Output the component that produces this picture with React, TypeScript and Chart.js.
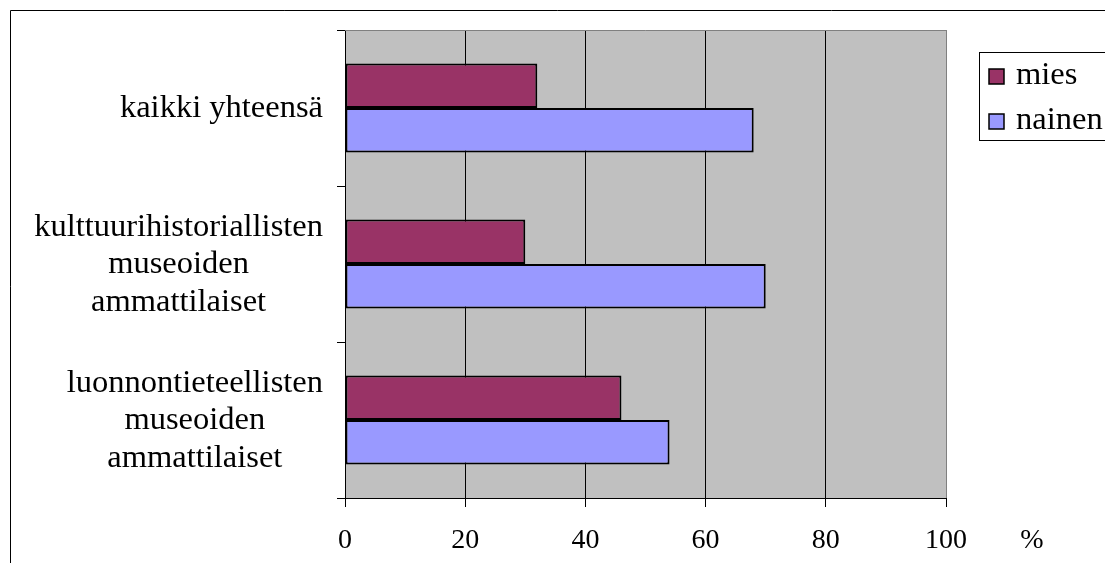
import React, { useEffect, useRef } from "react";
import { Chart, registerables } from "chart.js";

Chart.register(...registerables);

const categoryLines: string[][] = [
  ["kaikki yhteensä"],
  ["kulttuurihistoriallisten", "museoiden", "ammattilaiset"],
  ["luonnontieteellisten", "museoiden", "ammattilaiset"],
];
const seriesNames = ["mies", "nainen"];
const miesValues = [32, 30, 46];
const nainenValues = [68, 70, 54];
const seriesColors = ["#993366", "#9999FF"];
const xMin = 0;
const xMax = 100;
const xStep = 20;
const unitLabel = "%";

const FONT = "'Liberation Serif', 'Times New Roman', serif";

const decorPlugin = {
  id: "decor",
  beforeDraw(chart: any) {
    const { ctx, chartArea: a } = chart;
    ctx.save();
    ctx.fillStyle = "#ffffff";
    ctx.fillRect(0, 0, chart.width, chart.height);
    ctx.fillStyle = "#C0C0C0";
    ctx.fillRect(a.left, a.top, a.right - a.left, a.bottom - a.top);
    ctx.strokeStyle = "#000";
    ctx.lineWidth = 1;
    ctx.beginPath();
    ctx.moveTo(10.5, chart.height);
    ctx.lineTo(10.5, 10.5);
    ctx.lineTo(chart.width, 10.5);
    ctx.stroke();
    ctx.restore();
  },
  beforeDatasetsDraw(chart: any) {
    const { ctx, chartArea: a } = chart;
    ctx.save();
    ctx.strokeStyle = "#808080";
    ctx.lineWidth = 1;
    ctx.beginPath();
    ctx.moveTo(a.left, a.top + 0.5);
    ctx.lineTo(a.right, a.top + 0.5);
    ctx.stroke();
    ctx.restore();
  },
  afterDraw(chart: any) {
    const { ctx } = chart;
    const yScale = chart.scales.y;
    ctx.save();
    ctx.fillStyle = "#000";
    ctx.font = `32.5px ${FONT}`;
    ctx.textBaseline = "alphabetic";
    ctx.textAlign = "center";
    const rightEdge = 323;
    const lineH = 37.5;
    categoryLines.forEach((lines, i) => {
      const cy = yScale.getPixelForValue(i);
      const maxW = Math.max(...lines.map((l) => ctx.measureText(l).width));
      const cx = rightEdge - maxW / 2;
      lines.forEach((l, j) => {
        const y = cy + (j - (lines.length - 1) / 2) * lineH + 9;
        ctx.fillText(l, cx, y);
      });
    });

    // unit label
    ctx.font = `28px ${FONT}`;
    ctx.textBaseline = "middle";
    ctx.fillText(unitLabel, 1032, 541);

    // legend
    ctx.fillStyle = "#fff";
    ctx.fillRect(979.5, 52.5, 300, 88);
    ctx.strokeStyle = "#000";
    ctx.lineWidth = 1;
    ctx.strokeRect(979.5, 52.5, 300, 88);
    ctx.font = `32.5px ${FONT}`;
    ctx.textAlign = "left";
    ctx.textBaseline = "alphabetic";
    const rows = [69, 114];
    seriesNames.forEach((name, i) => {
      ctx.fillStyle = seriesColors[i];
      ctx.fillRect(989, rows[i], 15, 15);
      ctx.lineWidth = 1.5;
      ctx.strokeRect(989, rows[i], 15, 15);
      ctx.fillStyle = "#000";
      ctx.fillText(name, 1016, rows[i] + 15);
    });
    ctx.restore();
  },
};

export default function App() {
  const ref = useRef<HTMLCanvasElement | null>(null);
  useEffect(() => {
    if (!ref.current) return;
    const chart = new Chart(ref.current, {
      type: "bar",
      data: {
        labels: categoryLines.map((c) => c.join(" ")),
        datasets: [
          {
            label: seriesNames[0],
            data: miesValues,
            backgroundColor: seriesColors[0],
            borderColor: "#000",
            borderWidth: 2,
            borderSkipped: false,
          },
          {
            label: seriesNames[1],
            data: nainenValues,
            backgroundColor: seriesColors[1],
            borderColor: "#000",
            borderWidth: 2,
            borderSkipped: false,
          },
        ],
      },
      options: {
        indexAxis: "y",
        animation: false,
        responsive: true,
        maintainAspectRatio: false,
        layout: { padding: { left: 337, top: 30, right: 159, bottom: 0 } },
        datasets: {
          bar: { categoryPercentage: 2 / 3.5, barPercentage: 1 },
        },
        plugins: {
          legend: { display: false },
          tooltip: { enabled: false },
          title: { display: false },
        },
        scales: {
          x: {
            type: "linear",
            position: "bottom",
            min: xMin,
            max: xMax,
            ticks: {
              stepSize: xStep,
              color: "#000",
              font: { family: FONT, size: 28 },
              padding: 17,
            },
            grid: {
              color: (c: any) => (c.tick && c.tick.value === xMax ? "#808080" : "#000"),
              tickColor: "#000",
              tickLength: 9,
              lineWidth: 1,
              drawOnChartArea: true,
            },
            border: { display: true, color: "#000", width: 1 },
            afterFit: (s: any) => {
              s.height = 65;
            },
          },
          y: {
            type: "category",
            position: "left",
            offset: true,
            ticks: { display: false },
            grid: {
              offset: true,
              drawOnChartArea: false,
              drawTicks: true,
              tickLength: 8,
              color: "#000",
              tickColor: "#000",
            },
            border: { display: true, color: "#000", width: 1 },
            afterFit: (s: any) => {
              s.width = 8;
            },
          },
        },
      },
      plugins: [decorPlugin],
    });
    return () => chart.destroy();
  }, []);
  return (
    <div style={{ position: "absolute", left: 0, top: 0, width: 1105, height: 563, background: "#fff" }}>
      <canvas ref={ref} />
    </div>
  );
}
